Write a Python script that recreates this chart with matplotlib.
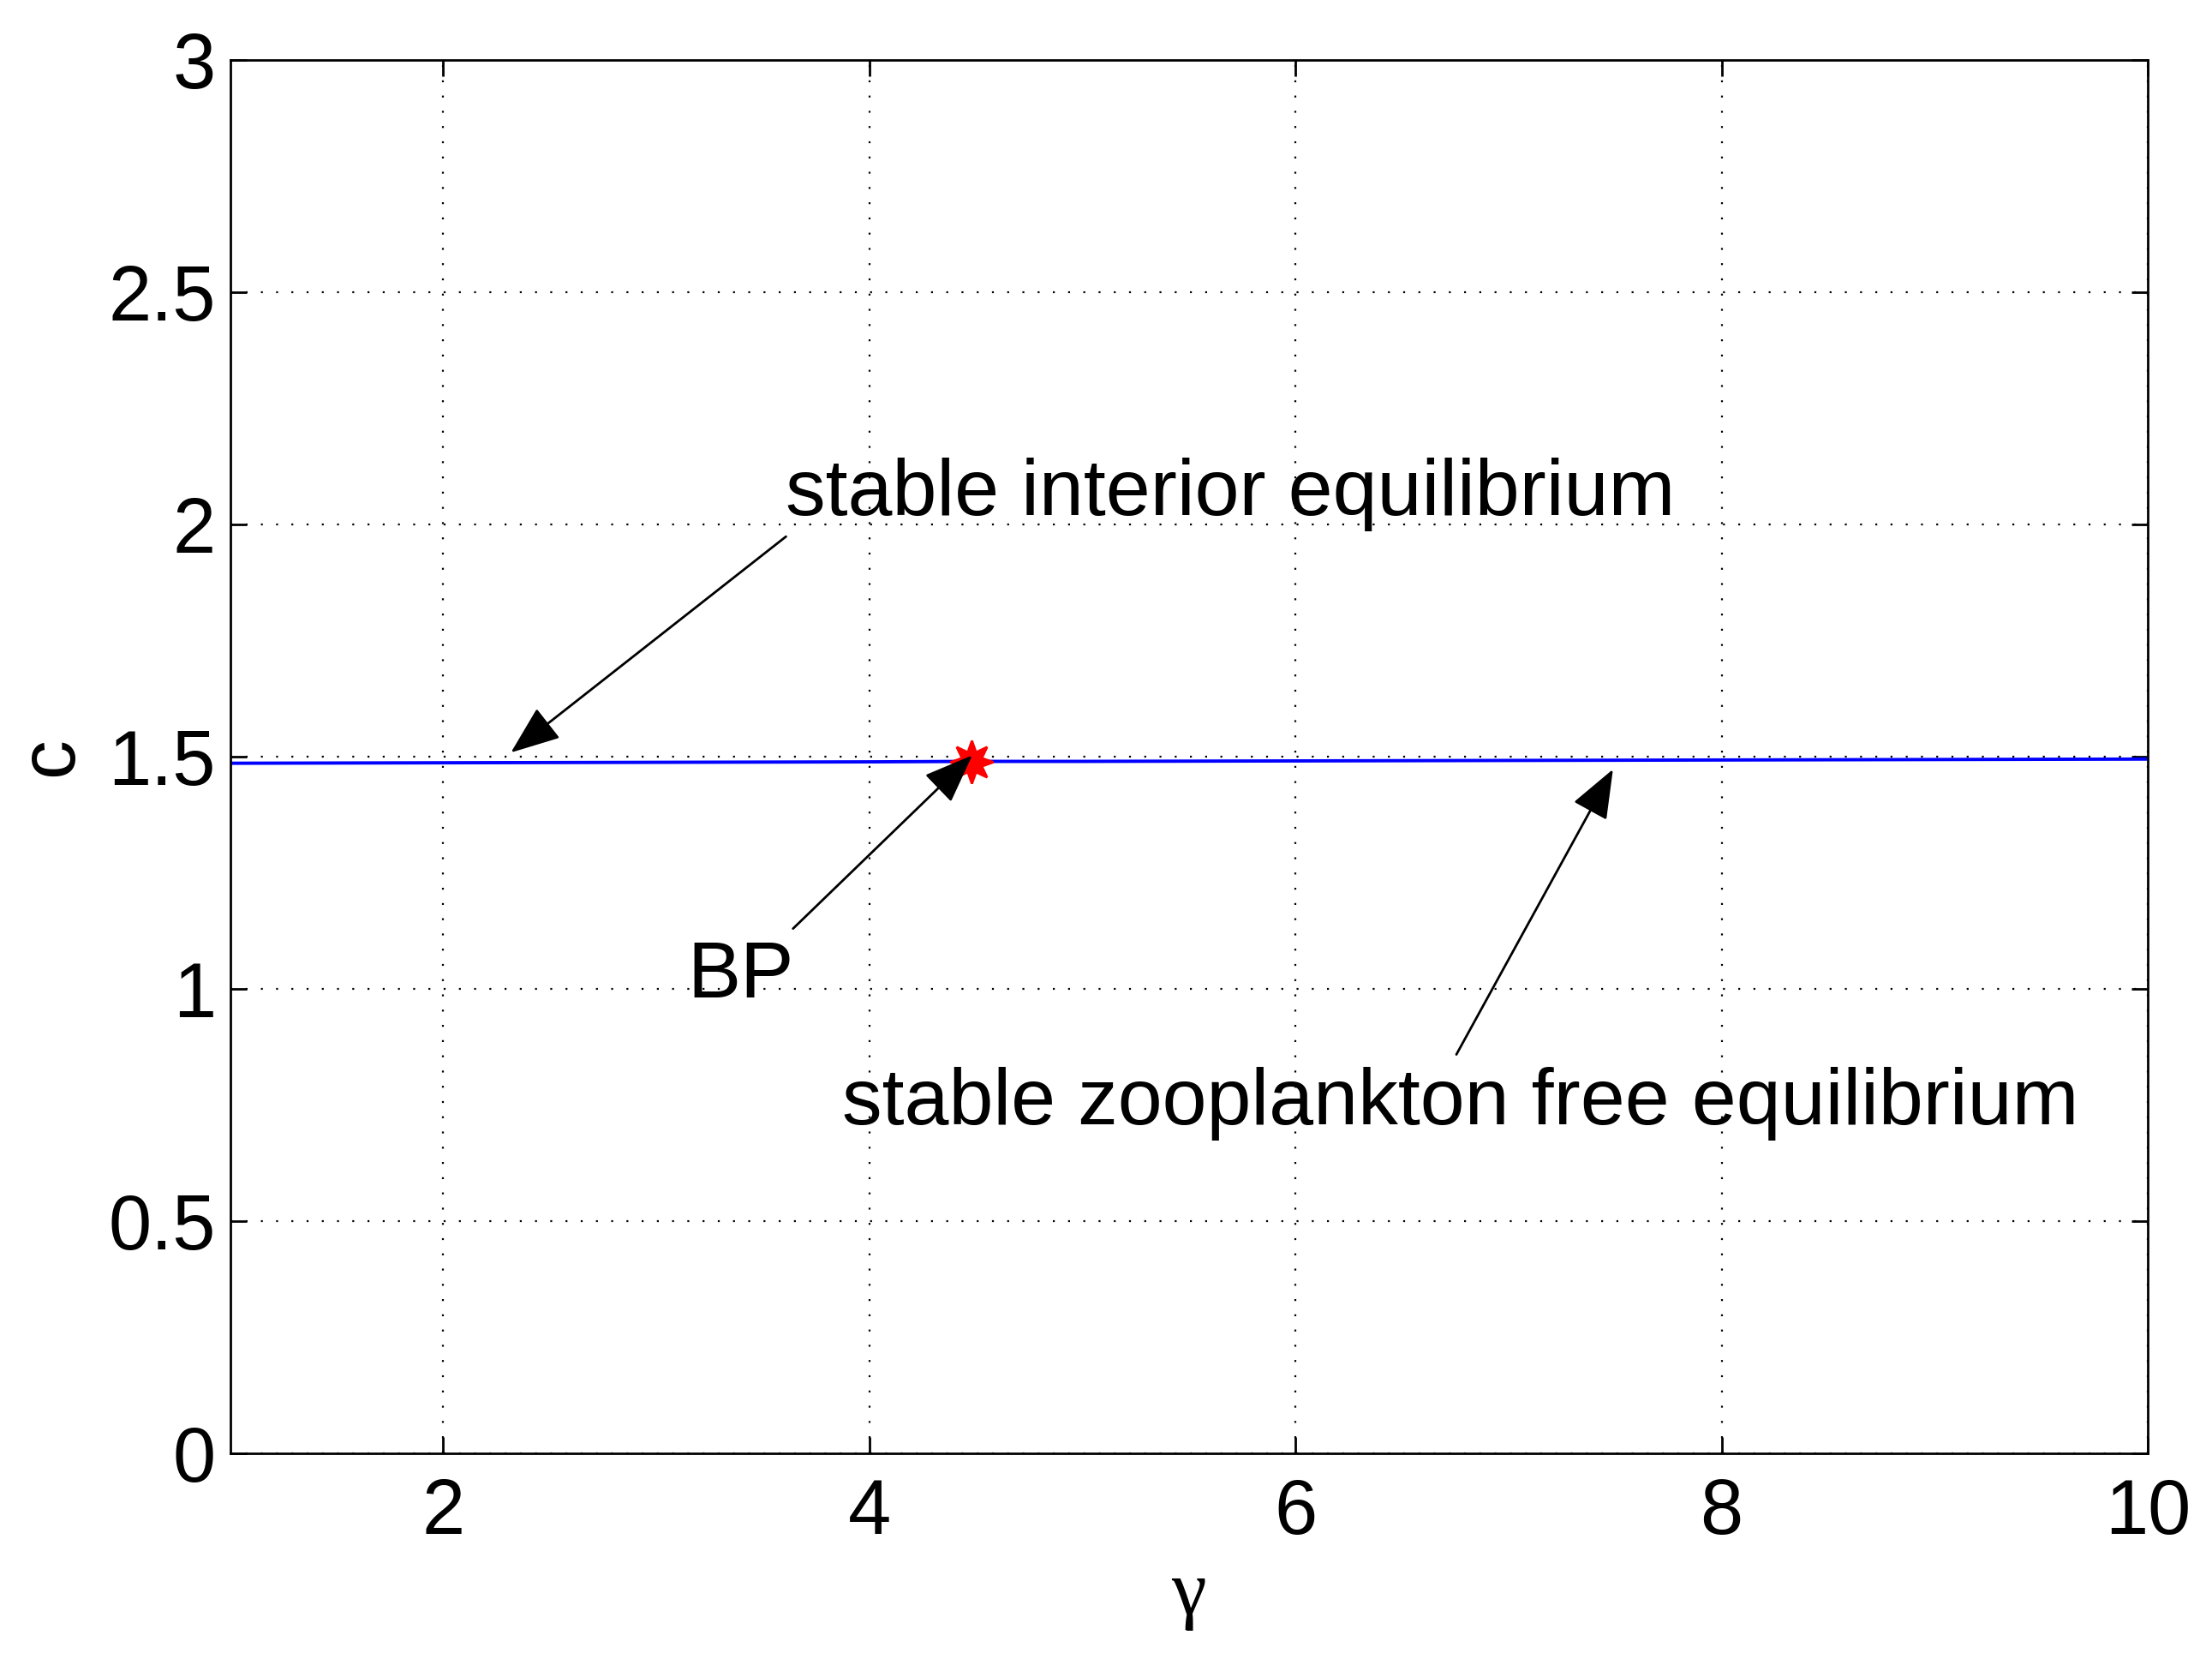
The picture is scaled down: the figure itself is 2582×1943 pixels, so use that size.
import numpy as np
import matplotlib
matplotlib.use("Agg")
import matplotlib.pyplot as plt

plt.rcParams['font.family'] = ['Liberation Sans', 'DejaVu Sans']

# branch of equilibria
gamma = [1.0, 2.0, 3.0, 4.0, 4.48, 5.0, 6.0, 7.0, 8.0, 9.0, 10.0]
c_vals = [1.486, 1.487, 1.488, 1.489, 1.490, 1.490, 1.491, 1.492, 1.493, 1.494, 1.495]

bp_gamma = 4.48
bp_c = 1.490

xticks = [2, 4, 6, 8, 10]
yticks = [0, 0.5, 1, 1.5, 2, 2.5, 3]
ytick_labels = ['0', '0.5', '1', '1.5', '2', '2.5', '3']

fig = plt.figure(figsize=(12.91, 9.715), dpi=200)
ax = fig.add_axes([0.104, 0.127, 0.867, 0.837])

ax.plot(gamma, c_vals, color='#0000ff', lw=1.4)
ax.plot(bp_gamma, bp_c, marker=(8, 1, 0), color='red', markersize=18, ls='none')

ax.set_xlim(1, 10)
ax.set_ylim(0, 3)
ax.set_xticks(xticks)
ax.set_yticks(yticks)
ax.set_yticklabels(ytick_labels)
ax.grid(True, color='k', ls=(0, (1, 7)), lw=0.8)
ax.tick_params(direction='in', top=True, right=True, length=7, width=1,
               labelsize=32.5)
ax.tick_params(axis='y', pad=6)
ax.tick_params(axis='x', pad=10)
for s in ax.spines.values():
    s.set_linewidth(1)

ax.set_xlabel('γ', family=['Liberation Serif', 'DejaVu Serif'], fontsize=33, labelpad=4)
ax.set_ylabel('c', fontsize=33, va='center')
ax.yaxis.set_label_coords(-0.093, 0.5)

arrow = dict(arrowstyle='-|>,head_length=0.9,head_width=0.35', color='k', lw=1.0,
             mutation_scale=20, shrinkA=0, shrinkB=0)

ax.annotate('', xy=(2.318, 1.509), xytext=(3.609, 1.974), arrowprops=arrow)
ax.text(3.609, 2.065, 'stable interior equilibrium', fontsize=33.6, va='center', ha='left')

ax.annotate('', xy=(4.483, 1.503), xytext=(3.642, 1.130), arrowprops=arrow)
ax.text(3.146, 1.026, 'BP', fontsize=33.6, va='center', ha='left')

ax.annotate('', xy=(7.490, 1.473), xytext=(6.755, 0.859), arrowprops=arrow)
ax.text(3.874, 0.753, 'stable zooplankton free equilibrium', fontsize=33.6, va='center', ha='left')

fig.savefig('out.png', dpi=200, facecolor='white')
